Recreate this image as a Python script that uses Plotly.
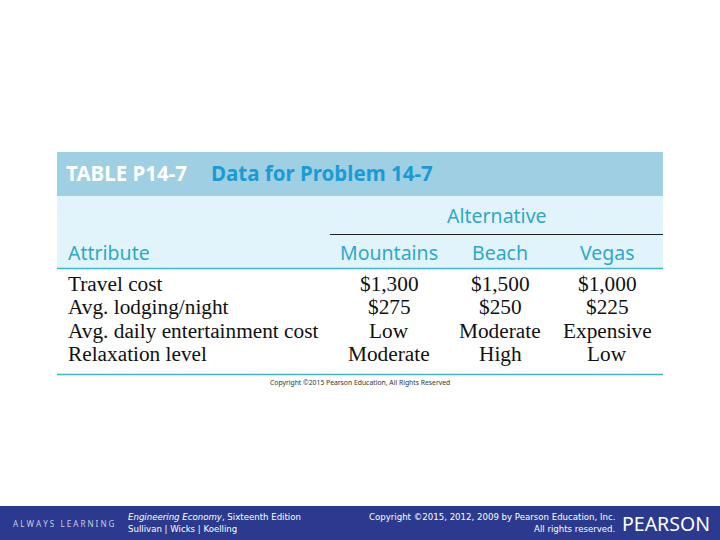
import plotly.graph_objects as go

# ---- data ----
table_id = "TABLE P14-7"
table_title = "Data for Problem 14-7"
group_label = "Alternative"
row_header = "Attribute"
alternatives = ["Mountains", "Beach", "Vegas"]
attributes = ["Travel cost", "Avg. lodging/night", "Avg. daily entertainment cost", "Relaxation level"]
mountains = ["$1,300", "$275", "Low", "Moderate"]
beach = ["$1,500", "$250", "Moderate", "High"]
vegas = ["$1,000", "$225", "Expensive", "Low"]
values = [mountains, beach, vegas]

# ---- layout constants (screen-pixel coordinates) ----
W, H = 720, 540
X0, X1 = 57, 663
col_x = [389, 500, 607]
row_y = [284, 307, 331, 354]
teal = "#2ea8c8"
sans = "Noto Sans"
serif = "Liberation Serif"
foot = "DejaVu Sans"

fig = go.Figure()
fig.add_trace(go.Scatter(x=[0, W], y=[0, H], mode="markers", marker=dict(opacity=0),
                         hoverinfo="skip", showlegend=False))

shapes = [
    dict(type="rect", x0=X0, x1=X1, y0=152, y1=196, fillcolor="#9ecfe2", line_width=0, layer="below"),
    dict(type="rect", x0=X0, x1=X1, y0=196, y1=268, fillcolor="#e2f4fb", line_width=0, layer="below"),
    dict(type="line", x0=330, x1=X1, y0=234.5, y1=234.5, line=dict(color="#222222", width=1.2)),
    dict(type="line", x0=X0, x1=X1, y0=268.5, y1=268.5, line=dict(color="#3fb6c6", width=1.5)),
    dict(type="line", x0=X0, x1=X1, y0=374.5, y1=374.5, line=dict(color="#3fb6c6", width=1.5)),
    dict(type="rect", x0=0, x1=W, y0=506, y1=H, fillcolor="#2b3a8f", line_width=0, layer="below"),
]

ann = []
def A(x, y, text, size, color="#000000", family=sans, xanchor="left", **kw):
    ann.append(dict(x=x, y=y, text=text, showarrow=False, xanchor=xanchor, yanchor="middle",
                    font=dict(size=size, color=color, family=family), **kw))

A(64, 173, "<b>" + table_id + "</b>", 20.5, "#ffffff")
A(209, 173, "<b>" + table_title + "</b>", 20.5, "#1b9bd5")
A(497, 215, group_label, 19.5, teal, xanchor="center")
A(66, 252, row_header, 19.5, teal)
for cx, name in zip(col_x, alternatives):
    A(cx, 252, name, 19.5, teal, xanchor="center")
for ry, attr in zip(row_y, attributes):
    A(66, ry, attr, 21.3, "#111111", family=serif)
for cx, col in zip(col_x, values):
    for ry, v in zip(row_y, col):
        A(cx, ry, v, 21.3, "#111111", family=serif, xanchor="center")
A(360, 382, "Copyright ©2015 Pearson Education, All Rights Reserved", 6.8, "#333333", xanchor="center")

# footer
A(11, 523, "A L W A Y S   L E A R N I N G", 8, "#c8cce0")
A(126, 517, "<i>Engineering Economy</i>, Sixteenth Edition", 8.6, "#ffffff", family=foot)
A(126, 529, "Sullivan | Wicks | Koelling", 8.6, "#ffffff", family=foot)
A(617, 517, "Copyright ©2015, 2012, 2009 by Pearson Education, Inc.", 8.6, "#ffffff", family=foot, xanchor="right")
A(617, 529, "All rights reserved.", 8.6, "#ffffff", family=foot, xanchor="right")
A(620, 523, "PEARSON", 19.5, "#ffffff")

fig.update_layout(
    width=W, height=H, margin=dict(l=0, r=0, t=0, b=0),
    paper_bgcolor="#ffffff", plot_bgcolor="#ffffff",
    xaxis=dict(range=[0, W], visible=False, fixedrange=True),
    yaxis=dict(range=[H, 0], visible=False, fixedrange=True),
    shapes=shapes, annotations=ann, showlegend=False,
)
fig.write_html("out.html", config={"displayModeBar": False},
               post_script="document.body.style.margin='0';document.body.style.overflow='hidden';")
